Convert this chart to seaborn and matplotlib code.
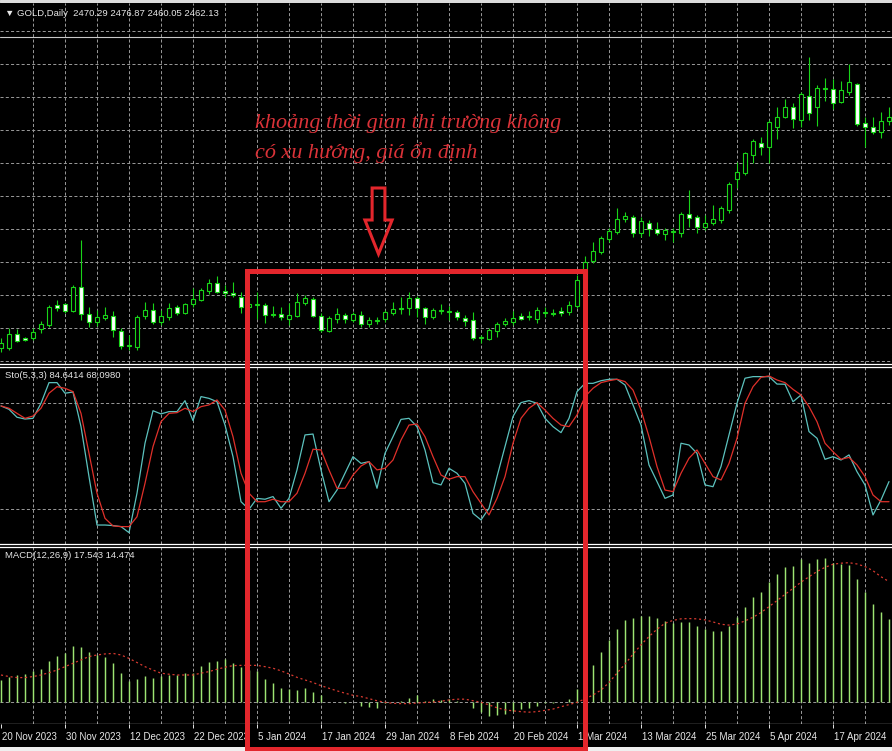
import matplotlib
matplotlib.use("Agg")
import matplotlib.pyplot as plt
from matplotlib.patches import FancyArrow, Rectangle
import numpy as np
import seaborn as sns

W, H = 892, 751

# --- data (one entry per daily bar) ---
DATE_LABELS = ["20 Nov 2023", "30 Nov 2023", "12 Dec 2023", "22 Dec 2023", "5 Jan 2024",
               "17 Jan 2024", "29 Jan 2024", "8 Feb 2024", "20 Feb 2024", "1 Mar 2024",
               "13 Mar 2024", "25 Mar 2024", "5 Apr 2024", "17 Apr 2024"]

OPEN = [1995.5, 1995, 2016, 2011, 2010, 2023.5, 2030, 2060, 2061.5, 2051.5,
        2087.5, 2046, 2035, 2041, 2044, 2021, 1997.5, 1997.5, 2044, 2052.5,
        2035, 2042.5, 2056.5, 2047.5, 2061, 2067.5, 2081.5, 2092.5, 2081, 2078,
        2072.5, 2057.5, 2060.5, 2060, 2047, 2046.5, 2039, 2044, 2062.5, 2068.5,
        2044, 2021.5, 2039, 2045, 2037.5, 2045, 2031, 2035, 2039, 2048.5,
        2053.5, 2055, 2070, 2055, 2041.5, 2052.5, 2051, 2050, 2040, 2037.5,
        2010, 2009, 2021.5, 2031, 2034, 2043.5, 2041.5, 2039, 2047.5, 2048.5,
        2051.5, 2049, 2059, 2099, 2126, 2139, 2159, 2170, 2189, 2192.5,
        2168.5, 2183.5, 2173.5, 2166, 2170, 2168.5, 2196, 2191.5, 2176.5, 2182.5,
        2187.5, 2202.5, 2248.5, 2258.5, 2285, 2303.5, 2296.5, 2326.5, 2342.5, 2356.5,
        2337.5, 2373.5, 2357.5, 2385, 2383.5, 2365, 2380, 2391, 2332.5, 2326.5,
        2320, 2336.5]
HIGH = [2010.5, 2025.5, 2024, 2012.5, 2025, 2036.5, 2060, 2067.5, 2062.5, 2090,
        2157.5, 2056.5, 2052.5, 2056.5, 2051.5, 2025, 2015, 2045, 2065, 2062.5,
        2052.5, 2062.5, 2060, 2062.5, 2086, 2085, 2098.5, 2103.5, 2090, 2095,
        2080, 2067.5, 2080, 2062.5, 2058.5, 2056.5, 2063.5, 2077.5, 2075, 2071.5,
        2047.5, 2043.5, 2055, 2048.5, 2050, 2051.5, 2041.5, 2042.5, 2052.5, 2064,
        2071.5, 2080, 2073.5, 2057.5, 2055, 2061.5, 2058.5, 2052.5, 2045, 2050,
        2015, 2025, 2035, 2040, 2051, 2048.5, 2051, 2057.5, 2056.5, 2054,
        2057, 2066.5, 2105, 2133.5, 2155, 2163.5, 2175, 2205, 2200, 2195,
        2192.5, 2187.5, 2185, 2175, 2175, 2200, 2232.5, 2195, 2195, 2210,
        2208.5, 2245, 2275, 2290, 2308.5, 2311.5, 2337.5, 2357.5, 2368.5, 2363.5,
        2380, 2432.5, 2390, 2401, 2398.5, 2396, 2421.5, 2392.5, 2341.5, 2341.5,
        2350, 2357.5]
LOW = [1989.5, 1992.5, 2005, 2006.5, 2007.5, 2017.5, 2027.5, 2051.5, 2048.5, 2050,
       2037.5, 2026.5, 2028.5, 2037.5, 2012.5, 1993.5, 1992.5, 1992.5, 2039, 2031.5,
       2030, 2037.5, 2045, 2046.5, 2056.5, 2066.5, 2076.5, 2077.5, 2072.5, 2072.5,
       2047.5, 2051, 2038.5, 2033.5, 2042.5, 2037.5, 2030, 2042.5, 2060, 2041.5,
       2020, 2019.5, 2033.5, 2033.5, 2035, 2027.5, 2027.5, 2031.5, 2035, 2045,
       2046.5, 2045, 2042.5, 2031.5, 2038.5, 2046.5, 2037.5, 2037.5, 2028.5, 2007.5,
       2002.5, 2007.5, 2012.5, 2028.5, 2030, 2037.5, 2037.5, 2032.5, 2042.5, 2043.5,
       2043.5, 2045, 2055, 2093, 2123.5, 2136.5, 2155, 2166.5, 2185, 2161.5,
       2162.5, 2163.5, 2165, 2157.5, 2155, 2161.5, 2177.5, 2168.5, 2172.5, 2180,
       2183.5, 2197.5, 2236, 2255, 2272.5, 2285, 2273.5, 2308.5, 2340, 2325,
       2326.5, 2337.5, 2328.5, 2366.5, 2353.5, 2362.5, 2375, 2328.5, 2297.5, 2316.5,
       2310, 2330]
CLOSE = [2003, 2016, 2006.5, 2007.5, 2020, 2031.5, 2056.5, 2056, 2051.5, 2086.5,
         2046, 2035, 2041.5, 2045, 2022.5, 1998.5, 2000, 2042.5, 2052.5, 2035,
         2043.5, 2056, 2047.5, 2061.5, 2068.5, 2082.5, 2092.5, 2080, 2077.5, 2075,
         2057.5, 2061, 2061.5, 2045, 2046, 2041.5, 2045, 2064, 2071, 2044,
         2022.5, 2040, 2046.5, 2038.5, 2046.5, 2031, 2037.5, 2037.5, 2049, 2053.5,
         2055, 2070, 2055, 2041.5, 2052.5, 2050, 2050.5, 2041.5, 2036.5, 2010,
         2012.5, 2022.5, 2031.5, 2036.5, 2040, 2039, 2043.5, 2052.5, 2049, 2046.5,
         2047.5, 2060, 2097.5, 2124.5, 2141, 2160, 2171, 2189, 2194, 2168.5,
         2186, 2173.5, 2167.5, 2172.5, 2172, 2196.5, 2191, 2176.5, 2182.5, 2188.5,
         2205, 2241.5, 2259, 2287.5, 2306, 2296.5, 2334, 2342.5, 2356.5, 2338.5,
         2376, 2347.5, 2385, 2383.5, 2363.5, 2382.5, 2394, 2331.5, 2326.5, 2320,
         2336.5, 2341.5]
BID = 2462.13

STO_K = [78.5, 76.6, 72.1, 71.1, 71.5, 80, 91.7, 91.7, 85.7, 86.4,
         66.8, 38.5, 11.1, 11.1, 10.8, 10.2, 6.8, 29.1, 57.4, 75.8,
         74, 75.3, 75.3, 81.5, 70.2, 83.8, 82.8, 80.9, 67.7, 49.8,
         24.3, 20, 26.2, 25.7, 27.2, 20.6, 26.2, 42.3, 62.1, 62.6,
         42.3, 24.3, 30.9, 40.4, 49.8, 46, 47, 31.9, 51.7, 61.1,
         70.9, 71.5, 66.8, 53.6, 35.1, 33.8, 43.2, 40.4, 34.7, 17.7,
         14, 20.6, 38.5, 55.5, 72.5, 80.4, 81.5, 80, 71.5, 66.8,
         63.4, 71.5, 86.6, 91.3, 91.3, 92.8, 93.6, 93.6, 90.4, 79.1,
         67.7, 45.1, 35.7, 26.2, 28.1, 57.4, 56.4, 51.7, 33.8, 32.8,
         44.2, 62.1, 80, 94.2, 95.1, 95.1, 95.1, 90.9, 90.8, 80.9,
         84.7, 64, 60.2, 48.3, 49.8, 47.9, 50.8, 41.3, 33.8, 16.8,
         25.3, 35.7]
STO_D = [78.5, 77.2, 74.3, 71.5, 72.8, 77.2, 85.7, 89.4, 88.5, 86.6,
         74.3, 51.7, 29.1, 14.9, 10.6, 10.2, 10.2, 15.8, 34.7, 55.5,
         69.6, 74.3, 74.7, 77.2, 75.3, 78.1, 79.1, 81.9, 76.2, 61.1,
         40.4, 29.1, 24.3, 24.3, 25.7, 24.3, 24.3, 29.1, 40.4, 54,
         53.6, 42.3, 31.9, 31.9, 39.4, 44.5, 47, 42.3, 43.2, 47.9,
         59.2, 67.7, 68.3, 61.1, 49.8, 39.4, 37, 38.5, 38.5, 30,
         23.4, 16.8, 26.2, 38.5, 57.4, 71.5, 77.2, 80.4, 76.2, 71.5,
         67.7, 66.8, 73.4, 83.8, 88.5, 91.7, 92.8, 93.6, 92.3, 87.5,
         76.2, 61.1, 44.2, 30.9, 30, 40.4, 48.9, 53.6, 46, 38.5,
         36.6, 46, 60.2, 80, 89.4, 94.7, 95.5, 93.2, 91.7, 87.9,
         84.7, 78.1, 69.6, 57.4, 52.6, 48.3, 49.4, 45.1, 38.5, 28.1,
         24.3, 24.3]

MACD_HIST = [8.6, 9.9, 10.5, 10.8, 12.1, 12.8, 15.9, 17.8, 18.8, 21.7,
             21.2, 19.4, 18.2, 17.6, 15, 11.2, 8.2, 8.8, 10.1, 9.5,
             10.1, 10.5, 10.5, 11.2, 11.2, 14, 15.4, 16, 16.5, 15.3,
             13.7, 12.4, 12.1, 9, 7.6, 5.6, 5, 4.7, 5.4, 4,
             2.8, 0.3, 0.1, -0.1, 0.1, -1.3, -1.7, -2.1, -0.4, 0.2,
             0.4, 1.7, 2.8, 0.6, 1.2, 1, 1.3, 0.5, 0.3, -2.3,
             -3.6, -5.3, -4.9, -4.6, -3.2, -2.7, -2.3, -1.4, -0.4, -0.1,
             0.3, 1.3, 5, 8.6, 14.4, 19.2, 24, 28.2, 31.7, 32.3,
             33.3, 33.2, 32.3, 31.4, 30.6, 30.8, 30.8, 29.4, 28.1, 27.6,
             27.6, 29.4, 32.7, 36.5, 40.4, 42.3, 46.4, 49.4, 51.9, 52.4,
             55, 53.7, 55, 55.4, 53.7, 53.2, 52.8, 47.3, 42.3, 37.8,
             34.9, 32.1]
MACD_SIGNAL = [10.5, 9.9, 9.5, 9.5, 9.9, 10.5, 11.4, 12.4, 13.7, 15,
               16.3, 17.6, 18.2, 18.6, 18.8, 18.2, 16.9, 15.3, 13.7, 12.4,
               11.2, 10.8, 10.5, 10.5, 10.5, 11.2, 11.8, 12.7, 13.5, 14.1,
               14.2, 14.2, 14.2, 13.7, 13.1, 12.1, 10.9, 9.6, 8.6, 7.6,
               6.4, 5.4, 4.4, 3.5, 2.7, 2.2, 1.4, 0.6, 0, -0.4,
               -0.5, -0.5, -0.3, -0.1, 0.1, 0.4, 0.9, 1.2, 1.2, 0.6,
               0, -1, -2.1, -2.9, -3.3, -3.6, -3.8, -3.6, -3.1, -2.6,
               -1.7, -0.9, 0, 1.3, 2.8, 4.7, 7.6, 11.2, 14.7, 18.5,
               22.1, 25.3, 28.1, 30.4, 31.5, 32.1, 32.2, 32.1, 31.7, 30.9,
               30, 29.7, 30.1, 31.3, 32.7, 34.5, 36.8, 39.1, 41.5, 43.8,
               46.2, 48.3, 50.3, 51.9, 53.1, 53.5, 53.7, 53.2, 52.2, 50.6,
               48.3, 46.4]

NOTE_LINES = ["khoảng thời gian thị trường không", "có xu hướng, giá ổn định"]

# --- colours ---
CANDLE = "#19d419"
GRID = "#9a9a9a"
K_COLOR = "#5cc2be"
D_COLOR = "#e0302a"
HIST_COLOR = "#9de472"
SIGNAL_COLOR = "#d83a30"
BOX_RED = "#e3262c"
LABEL = "#e6e6e6"
GRID_DASH = (0, (2.2, 1.6))

sns.set_theme(style="dark")
plt.rcParams["lines.scale_dashes"] = False
plt.rcParams["font.family"] = ["Liberation Sans", "DejaVu Sans"]

bars = np.arange(len(CLOSE))
XLIM = (-0.125, len(CLOSE) - 0.625)

fig = plt.figure(figsize=(W / 100, H / 100), dpi=100, facecolor="black")
# light window frame above and below the chart area
fig.add_artist(Rectangle((0, 1 - 2 / H), 1, 2 / H, transform=fig.transFigure,
                         color="#dcdcdc", zorder=0))
fig.add_artist(Rectangle((0, 0), 1, 4 / H, transform=fig.transFigure,
                         color="#efefef", zorder=0))


def add_panel(top, bottom, ylim):
    ax = fig.add_axes([0, 1 - bottom / H, 1, (bottom - top) / H])
    ax.set_facecolor("black")
    ax.set_xlim(*XLIM)
    ax.set_ylim(*ylim)
    ax.set_xticks([])
    ax.set_yticks([])
    ax.grid(False)
    for side in ("left", "right"):
        ax.spines[side].set_visible(False)
    for side in ("top", "bottom"):
        ax.spines[side].set_color("white")
        ax.spines[side].set_linewidth(0.9)
    for b in range(4, len(CLOSE), 4):
        ax.axvline(b, color=GRID, lw=0.7, ls=GRID_DASH, zorder=1)
    return ax


# price panel: 1.5 $ per pixel, bid line at pixel row 37
ax_p = add_panel(3, 364, (1971.5, 2513))
ax_p.spines["top"].set_visible(False)
for level in 2470.55 - 49.5 * np.arange(11):
    ax_p.axhline(level, color=GRID, lw=0.7, ls=GRID_DASH, zorder=1)
ax_p.axhline(BID, color="#c8c8c8", lw=0.8, zorder=1.5)

o, h, l, c = map(np.array, (OPEN, HIGH, LOW, CLOSE))
ax_p.vlines(bars, l, h, color=CANDLE, lw=0.8, zorder=2)
diff = c - o
doji = np.abs(diff) < 2.6
fill = np.where(diff < 0, "white", "black")
ax_p.bar(bars[~doji], np.abs(diff[~doji]), bottom=np.minimum(o, c)[~doji], width=0.52,
         color=fill[~doji], edgecolor=CANDLE, linewidth=0.8, zorder=3)
ax_p.bar(bars[doji], 1.5, bottom=(o[doji] + c[doji]) / 2 - 0.75, width=0.52,
         color=CANDLE, edgecolor=CANDLE, linewidth=0.8, zorder=3)

ax_p.text(5 / W, 1 - 11 / 361, "\u25bc GOLD,Daily  2470.29 2476.87 2460.05 2462.13",
          transform=ax_p.transAxes, fontsize=6.8, color=LABEL, va="center", ha="left")

note_font = dict(fontsize=15.9, style="italic", color="#da3238",
                 family=["Liberation Serif", "DejaVu Serif"])
fig.text(255 / W, 1 - 128 / H, NOTE_LINES[0], va="baseline", **note_font)
fig.text(255 / W, 1 - 158 / H, NOTE_LINES[1], va="baseline", **note_font)
ax_p.add_patch(FancyArrow(47.19, 2235.5, 0, -99, width=1.6, head_width=3.4, head_length=51,
                          length_includes_head=True, fc="none", ec=BOX_RED, lw=2.2, zorder=6))

# stochastic panel
ax_s = add_panel(367, 544, (0.36, 100.55))
for level in (80, 20):
    ax_s.axhline(level, color=GRID, lw=0.7, ls=GRID_DASH, zorder=1)
sns.lineplot(x=bars, y=STO_K, ax=ax_s, color=K_COLOR, lw=0.9, zorder=3)
sns.lineplot(x=bars, y=STO_D, ax=ax_s, color=D_COLOR, lw=0.9, zorder=4)
ax_s.set_xlabel("")
ax_s.set_ylabel("")
ax_s.text(5 / W, 0.95, "Sto(5,3,3) 84.6414 68.0980", transform=ax_s.transAxes,
          fontsize=6.8, color=LABEL, va="center", ha="left")

# MACD panel: zero at pixel row 702.3, 2.6 px per unit
ax_m = add_panel(547, 724, (-8.35, 59.73))
ax_m.axhline(0, color=GRID, lw=0.7, ls=GRID_DASH, zorder=1)
ax_m.vlines(bars, 0, MACD_HIST, color=HIST_COLOR, lw=1.05, zorder=3)
sns.lineplot(x=bars, y=MACD_SIGNAL, ax=ax_m, color=SIGNAL_COLOR, lw=0.9,
             linestyle=(0, (1.5, 2.0)), zorder=4)
ax_m.set_xlabel("")
ax_m.set_ylabel("")
ax_m.text(5 / W, 0.95, "MACD(12,26,9) 17.543 14.474", transform=ax_m.transAxes,
          fontsize=6.8, color=LABEL, va="center", ha="left")

# date strip
ax_d = fig.add_axes([0, 1 - 747 / H, 1, 23 / H])
ax_d.set_facecolor("black")
ax_d.set_xlim(*XLIM)
ax_d.set_ylim(0, 1)
ax_d.set_xticks([])
ax_d.set_yticks([])
for s in ax_d.spines.values():
    s.set_visible(False)
tick_bars = np.arange(0, 8 * len(DATE_LABELS), 8)
ax_d.vlines(tick_bars, 0.82, 1.0, color=LABEL, lw=0.7)
for b, lab in zip(tick_bars, DATE_LABELS):
    ax_d.text(b + 0.1, 0.45, lab, fontsize=7, color=LABEL, va="center", ha="left")

# highlight box around the sideways period
fig.add_artist(Rectangle((247 / W, 1 - 749 / H), (584.5 - 247) / W, (749 - 270.5) / H,
                         transform=fig.transFigure, fill=False, ec=BOX_RED, lw=3.6, zorder=10))

fig.savefig("out.png", dpi=100, facecolor=fig.get_facecolor())
